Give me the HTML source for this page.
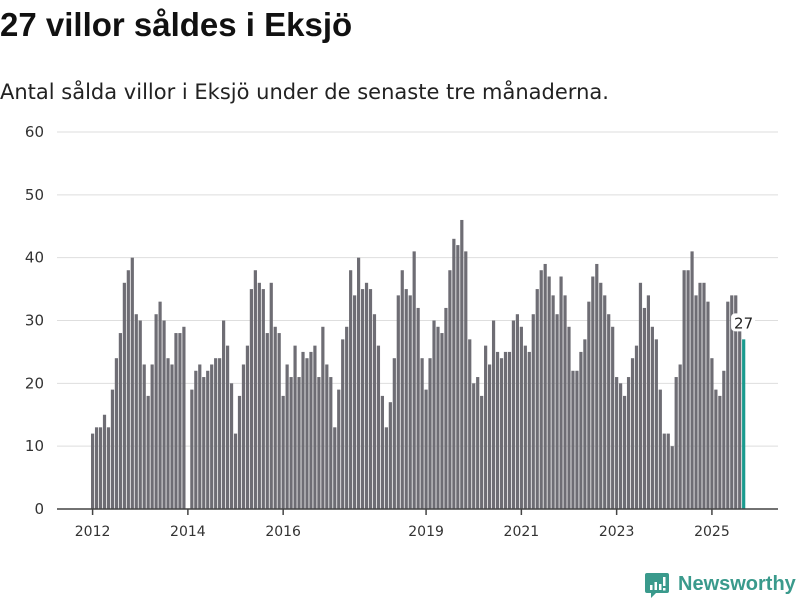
<!DOCTYPE html>
<html><head><meta charset="utf-8"><style>
body{margin:0;background:#fff;width:800px;height:600px;overflow:hidden;font-family:"Liberation Sans",sans-serif;}
#title{position:absolute;left:0;top:6px;font-size:33px;font-weight:bold;color:#111;}
#sub{position:absolute;left:0;top:80px;font-size:21px;color:#222;font-family:"DejaVu Sans",sans-serif;}
svg{position:absolute;left:0;top:0;}
</style></head><body>
<div id="title">27 villor såldes i Eksjö</div>
<div id="sub">Antal sålda villor i Eksjö under de senaste tre månaderna.</div>
<svg id="chart" width="800" height="600"></svg>
<script>
const values = [12,13,13,15,13,19,24,28,36,38,40,31,
30,23,18,23,31,33,30,24,23,28,28,29,
null,19,22,23,21,22,23,24,24,30,26,20,
12,18,23,26,35,38,36,35,28,36,29,28,
18,23,21,26,21,25,24,25,26,21,29,23,
21,13,19,27,29,38,34,40,35,36,35,31,
26,18,13,17,24,34,38,35,34,41,32,
24,19,24,30,29,28,32,38,43,42,46,41,27,20,21,18,26,23,30,25,24,25,25,30,31,29,26,25,31,35,38,39,37,34,31,37,34,29,22,22,
25,27,33,37,39,36,34,31,29,21,20,18,21,24,26,36,32,34,29,27,19,12,12,10,21,23,38,38,41,34,36,36,33,24,19,18,22,33,34,34,30,27];
const yTicks = [0,10,20,30,40,50,60];
const xTickLabels = ["2012","2014","2016","2019","2021","2023","2025"];
const xTickIndex = [0,24,48,84,108,132,156];
const NS="http://www.w3.org/2000/svg";
const svg=document.getElementById('chart');
const y0=509, pxPerUnit=(509-132)/60;
function yS(v){return y0-v*pxPerUnit;}
function xS(i){return 91+i*3.97;}
function mk(t,a){const e=document.createElementNS(NS,t);for(const k in a)e.setAttribute(k,a[k]);svg.appendChild(e);return e;}
yTicks.forEach(t=>{
  if(t>0){const g=mk('line',{x1:57,x2:778,y1:yS(t),y2:yS(t),stroke:'#dedede','stroke-width':1});
  
  }
  const l=mk('text',{x:44,y:yS(t)+5,'text-anchor':'end','font-size':15,fill:'#333','font-family':'DejaVu Sans, sans-serif'});
  l.textContent=t;
  
  
});
values.forEach((v,i)=>{
  if(v==null)return;
  const last=i===values.length-1;
  const b=mk('rect',{x:xS(i),y:yS(v),width:3.2,height:v*pxPerUnit,fill:last?'#1a9a8e':'#6e6d74'});
  
  
});
const ax=mk('line',{x1:57,x2:778,y1:509,y2:509,stroke:'#444','stroke-width':1.5});


xTickIndex.forEach((k,j)=>{
  const cx=xS(k)+1.6;
  const t=mk('line',{x1:cx,x2:cx,y1:509,y2:515,stroke:'#444','stroke-width':1.5});
  
  
  const l=mk('text',{x:cx,y:536,'text-anchor':'middle','font-size':14,fill:'#333','font-family':'DejaVu Sans, sans-serif'});
  l.textContent=xTickLabels[j];
  
  
});
const li=values.length-1, lv=values[li];
const bg=mk('rect',{x:xS(li)-11,y:yS(lv)-26,width:24,height:18,rx:4,fill:'#fff'});


const vl=mk('text',{x:xS(li)+1.5,y:yS(lv)-11,'text-anchor':'middle','font-size':15,fill:'#222','font-family':'DejaVu Sans, sans-serif'});
vl.textContent=lv;


</script>
<svg width="800" height="600" style="pointer-events:none">
  <path d="M647 573 h20 a2 2 0 0 1 2 2 v16 a2 2 0 0 1 -2 2 h-11 l-5 5 v-5 h-4 a2 2 0 0 1 -2 -2 v-16 a2 2 0 0 1 2 -2z" fill="#3a9a8c"/>
  <rect x="650" y="585" width="2.5" height="5" fill="#fff"/>
  <rect x="654.5" y="582" width="2.5" height="8" fill="#fff"/>
  <rect x="659" y="584" width="2.5" height="6" fill="#fff"/>
  <rect x="663" y="577" width="2.5" height="9" fill="#fff"/>
  <rect x="663" y="588" width="2.5" height="2.5" fill="#fff"/>
  <text x="678" y="590" font-size="20" font-weight="bold" fill="#3a9a8c" font-family="Liberation Sans, sans-serif">Newsworthy</text>
</svg>
</body></html>
